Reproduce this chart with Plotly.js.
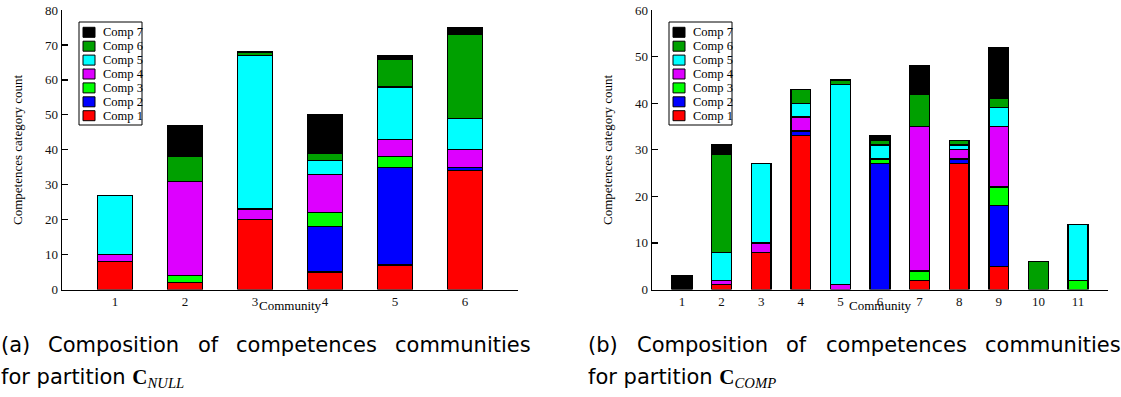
<!DOCTYPE html>
<html>
<head>
<meta charset="utf-8">
<script src="https://cdn.plot.ly/plotly-3.0.1.min.js"></script>
<style>
  html, body { margin: 0; padding: 0; background: #ffffff; }
  #chart { width: 1121px; height: 397px; }
</style>
</head>
<body>
<div id="chart"></div>
<script>
// ---------------- data ----------------
const categoriesNull = [1, 2, 3, 4, 5, 6];
const categoriesComp = [1, 2, 3, 4, 5, 6, 7, 8, 9, 10, 11];
const seriesNames = ['Comp 1', 'Comp 2', 'Comp 3', 'Comp 4', 'Comp 5', 'Comp 6', 'Comp 7'];
const seriesColors = ['#ff0000', '#0000ff', '#00ff00', '#dd00ff', '#00ffff', '#00a000', '#000000'];

// partition C_NULL (communities 1..6)
const nullComp1 = [8, 2, 20, 5, 7, 34];
const nullComp2 = [0, 0, 0, 13, 28, 1];
const nullComp3 = [0, 2, 0, 4, 3, 0];
const nullComp4 = [2, 27, 3, 11, 5, 5];
const nullComp5 = [17, 0, 44, 4, 15, 9];
const nullComp6 = [0, 7, 1, 2, 8, 24];
const nullComp7 = [0, 9, 0, 11, 1, 2];

// partition C_COMP (communities 1..11)
const compComp1 = [0, 1, 8, 33, 0, 0, 2, 27, 5, 0, 0];
const compComp2 = [0, 0, 0, 1, 0, 27, 0, 1, 13, 0, 0];
const compComp3 = [0, 0, 0, 0, 0, 1, 2, 0, 4, 0, 2];
const compComp4 = [0, 1, 2, 3, 1, 0, 31, 2, 13, 0, 0];
const compComp5 = [0, 6, 17, 3, 43, 3, 0, 1, 4, 0, 12];
const compComp6 = [0, 21, 0, 3, 1, 1, 7, 1, 2, 6, 0];
const compComp7 = [3, 2, 0, 0, 0, 1, 6, 0, 11, 0, 0];

const yTitle = 'Competences category count';
const xTitle = 'Community';
const captionA1 = ['(a)', 'Composition', 'of', 'competences', 'communities'];
const captionB1 = ['(b)', 'Composition', 'of', 'competences', 'communities'];
const captionA2 = 'for partition <span style="font-family:Liberation Serif"><b>C</b><sub><i>NULL</i></sub></span>';
const captionB2 = 'for partition <span style="font-family:Liberation Serif"><b>C</b><sub><i>COMP</i></sub></span>';

// ---------------- layout helpers ----------------
const W = 1121, H = 397;
const px = v => v / W;
const py = v => 1 - v / H;
const serif = 'Liberation Serif, Times New Roman, serif';
const sans = 'DejaVu Sans, sans-serif';

const nullSeries = [nullComp1, nullComp2, nullComp3, nullComp4, nullComp5, nullComp6, nullComp7];
const compSeries = [compComp1, compComp2, compComp3, compComp4, compComp5, compComp6, compComp7];

function makeTraces(cats, series, xa, ya) {
  return series.map((vals, i) => ({
    type: 'bar',
    name: seriesNames[i],
    x: cats,
    y: vals.map(v => (v === 0 ? null : v)),
    xaxis: xa,
    yaxis: ya,
    width: 0.5,
    marker: { color: seriesColors[i], line: { color: '#000000', width: 1.3 } },
    showlegend: false,
    hoverinfo: 'x+y+name'
  }));
}

const traces = [].concat(
  makeTraces(categoriesNull, nullSeries, 'x', 'y'),
  makeTraces(categoriesComp, compSeries, 'x2', 'y2')
);

const shapes = [];
const annotations = [];

function addLegend(x0) {
  const top = 22, w = 63, h = 103, pitch = 13.9, first = 32.3;
  shapes.push({
    type: 'rect', xref: 'paper', yref: 'paper',
    x0: px(x0), x1: px(x0 + w), y0: py(top + h), y1: py(top),
    line: { color: '#000000', width: 1 }, fillcolor: '#ffffff', layer: 'above'
  });
  for (let k = 0; k < seriesNames.length; k++) {
    const s = seriesNames.length - 1 - k;
    const cy = first + k * pitch;
    shapes.push({
      type: 'rect', xref: 'paper', yref: 'paper',
      x0: px(x0 + 4), x1: px(x0 + 16), y0: py(cy + 5), y1: py(cy - 5),
      line: { color: '#000000', width: 1 }, fillcolor: seriesColors[s], layer: 'above'
    });
    annotations.push({
      xref: 'paper', yref: 'paper', x: px(x0 + 22), y: py(cy),
      xanchor: 'left', yanchor: 'middle', showarrow: false,
      text: seriesNames[s], font: { family: serif, size: 12.5, color: '#000000' }
    });
  }
}
addLegend(79);
addLegend(669);

// axis titles
function addAxisTitles(xCenter, yTitleX) {
  annotations.push({
    xref: 'paper', yref: 'paper', x: px(xCenter), y: py(305),
    xanchor: 'center', yanchor: 'middle', showarrow: false,
    text: xTitle, font: { family: serif, size: 13, color: '#000000' }
  });
  annotations.push({
    xref: 'paper', yref: 'paper', x: px(yTitleX), y: py(150),
    xanchor: 'center', yanchor: 'middle', showarrow: false, textangle: -90,
    text: yTitle, font: { family: serif, size: 13, color: '#000000' }
  });
}
addAxisTitles(290, 17);
addAxisTitles(880, 607);

// captions (justified first line)
const capSize = 21;
const ctx = document.createElement('canvas').getContext('2d');
ctx.font = capSize + 'px "DejaVu Sans"';
function addJustified(words, x0, x1, yc) {
  const widths = words.map(w => ctx.measureText(w).width);
  const total = widths.reduce((a, b) => a + b, 0);
  const gap = (x1 - x0 - total) / (words.length - 1);
  let x = x0;
  words.forEach((w, i) => {
    annotations.push({
      xref: 'paper', yref: 'paper', x: px(x), y: py(yc),
      xanchor: 'left', yanchor: 'middle', showarrow: false, borderpad: 0,
      text: w, font: { family: sans, size: capSize, color: '#000000' }
    });
    x += widths[i] + gap;
  });
}
addJustified(captionA1, 0, 530, 345);
addJustified(captionB1, 587, 1120, 345);
function addLine(text, x0, yc) {
  annotations.push({
    xref: 'paper', yref: 'paper', x: px(x0), y: py(yc),
    xanchor: 'left', yanchor: 'middle', showarrow: false, borderpad: 0,
    text: text, font: { family: sans, size: capSize, color: '#000000' }
  });
}
addLine(captionA2, 0, 378);
addLine(captionB2, 587, 378);

const yDomain = [(H - 289.5) / H, (H - 10) / H];
function xAxis(domain, range, cats, anchor) {
  return {
    domain: domain, range: range, anchor: anchor,
    tickmode: 'array', tickvals: cats, ticktext: cats.map(String),
    ticks: '', showgrid: false, zeroline: false,
    showline: true, linecolor: '#000000', linewidth: 1.3,
    tickfont: { family: serif, size: 13, color: '#111111' },
    fixedrange: true
  };
}
function yAxis(range, anchor) {
  return {
    domain: yDomain, range: range, anchor: anchor, dtick: 10, tick0: 0,
    ticks: 'inside', ticklen: 6, tickwidth: 1.3, tickcolor: '#000000',
    showgrid: false, zeroline: false,
    showline: true, linecolor: '#000000', linewidth: 1.3,
    tickfont: { family: serif, size: 13, color: '#111111' },
    fixedrange: true
  };
}

const layout = {
  width: W, height: H,
  margin: { l: 0, r: 0, t: 0, b: 0, pad: 0 },
  paper_bgcolor: '#ffffff', plot_bgcolor: '#ffffff',
  barmode: 'stack',
  showlegend: false,
  xaxis: xAxis([62 / W, 518 / W], [0.243, 6.757], categoriesNull, 'y'),
  yaxis: yAxis([0, 80], 'x'),
  xaxis2: xAxis([652 / W, 1108 / W], [0.243, 11.757], categoriesComp, 'y2'),
  yaxis2: yAxis([0, 60], 'x2'),
  shapes: shapes,
  annotations: annotations
};

Plotly.newPlot('chart', traces, layout, { displayModeBar: false, staticPlot: true });
</script>
</body>
</html>
